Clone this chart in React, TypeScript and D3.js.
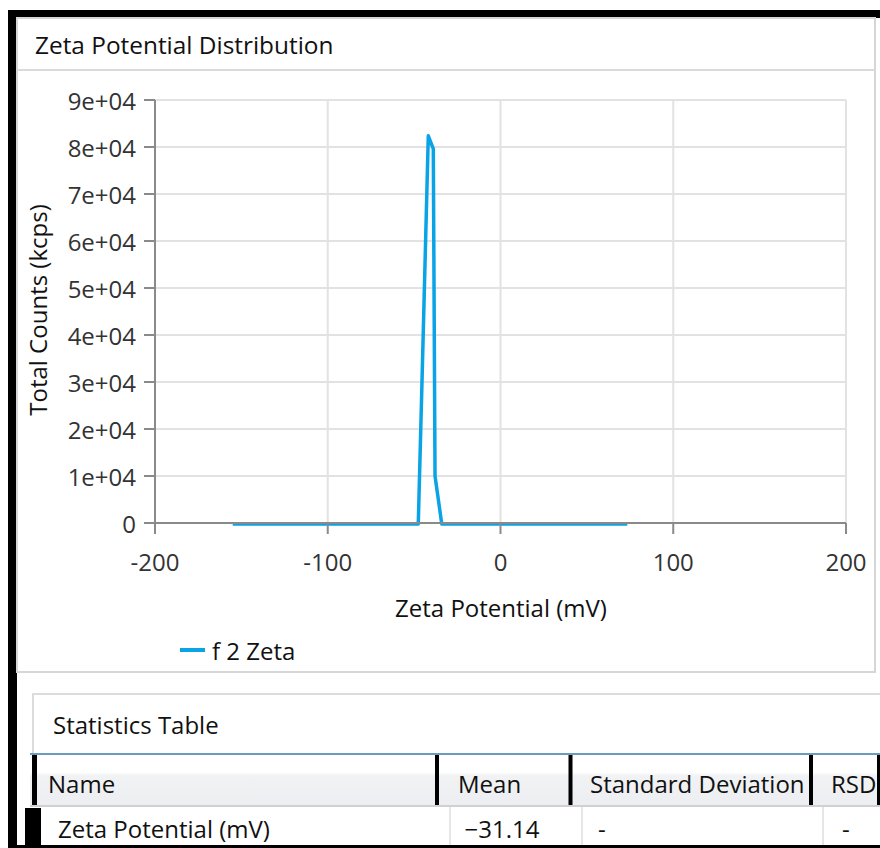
import React from "react";
import * as d3 from "d3";

// Zeta potential distribution (x in mV, y in kcps)
const zetaMv = [-155, -47.6, -45.6, -41.8, -38.9, -37.9, -34.0, 73.4];
const totalCounts = [0, 0, 28000, 82600, 79800, 10200, 0, 0];

const xTicks = [-200, -100, 0, 100, 200];
const xTickLabels = ["-200", "-100", "0", "100", "200"];
const yTicks = [0, 10000, 20000, 30000, 40000, 50000, 60000, 70000, 80000, 90000];
const yTickLabels = ["0", "1e+04", "2e+04", "3e+04", "4e+04", "5e+04", "6e+04", "7e+04", "8e+04", "9e+04"];

const seriesName = "f 2 Zeta";

// Statistics table
const statColumns = ["Name", "Mean", "Standard Deviation", "RSD"];
const statRow = ["Zeta Potential (mV)", "\u221231.14", "-", "-"];

const FONT = "'Open Sans', sans-serif";
const BLUE = "#0aa3e6";

export default function App() {
  const W = 880;
  const H = 848;
  const x = d3.scaleLinear().domain([-200, 200]).range([155, 846]);
  const y = d3.scaleLinear().domain([0, 90000]).range([523, 100]);

  const pts: [number, number][] = zetaMv.map((v, i) => [v, totalCounts[i]]);
  const line = d3
    .line<[number, number]>()
    .x((d) => x(d[0]))
    .y((d) => y(d[1]));

  const headerSepX = [34, 437, 570.5, 811, 879];
  const cellSepX = [450, 582, 823];

  return (
    <svg
      width={W}
      height={H}
      style={{ position: "absolute", left: 0, top: 0, background: "#fff" }}
      fontFamily={FONT}
    >
      <defs>
        <linearGradient id="hdrGrad" x1="0" y1="0" x2="0" y2="1">
          <stop offset="0" stopColor="#ffffff" />
          <stop offset="0.35" stopColor="#ffffff" />
          <stop offset="0.42" stopColor="#f1f2f4" />
          <stop offset="1" stopColor="#eceef1" />
        </linearGradient>
      </defs>

      {/* outer window frame */}
      <rect x={8} y={10} width={872} height={8} fill="#000" />
      <rect x={8} y={10} width={9} height={838} fill="#000" />
      <rect x={8} y={845} width={872} height={3} fill="#000" />

      {/* chart panel */}
      <rect x={17} y={18} width={858} height={654} fill="#fff" stroke="#d6d6d6" strokeWidth={2} />
      <line x1={17} x2={875} y1={70} y2={70} stroke="#dadada" strokeWidth={2} />
      <text x={35} y={44} dominantBaseline="central" fontSize={24.4} fill="#111">
        Zeta Potential Distribution
      </text>

      {/* grid */}
      {yTicks.map((t) => (
        <line key={"gy" + t} x1={x(-200)} x2={x(200)} y1={y(t)} y2={y(t)} stroke="#e2e2e2" strokeWidth={2} />
      ))}
      {xTicks.map((t) => (
        <line key={"gx" + t} x1={x(t)} x2={x(t)} y1={y(0)} y2={y(90000)} stroke="#e2e2e2" strokeWidth={2} />
      ))}

      {/* data */}
      <path d={line(pts) || ""} fill="none" stroke={BLUE} strokeWidth={3.5} strokeLinejoin="round" transform="translate(0,1)" />

      {/* axes */}
      <line x1={x(-200) - 11} x2={x(200)} y1={y(0)} y2={y(0)} stroke="#8a8a8a" strokeWidth={2} />
      <line x1={x(-200)} x2={x(-200)} y1={y(90000)} y2={y(0) + 11} stroke="#8a8a8a" strokeWidth={2} />
      {yTicks.map((t, i) => (
        <g key={"ty" + t}>
          <line x1={x(-200) - 11} x2={x(-200)} y1={y(t)} y2={y(t)} stroke="#8a8a8a" strokeWidth={2} />
          <text x={136} y={y(t)} textAnchor="end" dominantBaseline="central" fontSize={24} fill="#333">
            {yTickLabels[i]}
          </text>
        </g>
      ))}
      {xTicks.map((t, i) => (
        <g key={"tx" + t}>
          <line x1={x(t)} x2={x(t)} y1={y(0)} y2={y(0) + 11} stroke="#8a8a8a" strokeWidth={2} />
          <text x={x(t)} y={561} textAnchor="middle" dominantBaseline="central" fontSize={24} fill="#333">
            {xTickLabels[i]}
          </text>
        </g>
      ))}
      <text x={501} y={607} textAnchor="middle" dominantBaseline="central" fontSize={24} fill="#111">
        Zeta Potential (mV)
      </text>
      <text
        transform="translate(37,310) rotate(-90)"
        textAnchor="middle"
        dominantBaseline="central"
        fontSize={24}
        fill="#111"
      >
        Total Counts (kcps)
      </text>

      {/* legend */}
      <line x1={180} x2={205} y1={650} y2={650} stroke={BLUE} strokeWidth={4} />
      <text x={212} y={650} dominantBaseline="central" fontSize={24} fill="#111">
        {seriesName}
      </text>

      {/* statistics table */}
      <rect x={33} y={694} width={860} height={60} fill="#fff" stroke="#dcdcdc" strokeWidth={2} />
      <text x={53} y={724} dominantBaseline="central" fontSize={24} fill="#111">
        Statistics Table
      </text>
      <rect x={30} y={754} width={850} height={52} fill="url(#hdrGrad)" />
      <line x1={30} x2={880} y1={754} y2={754} stroke="#6b9cbd" strokeWidth={2} />
      <line x1={30} x2={880} y1={806} y2={806} stroke="#d0d0d0" strokeWidth={2} />
      {headerSepX.map((sx, i) => (
        <rect key={"hs" + i} x={sx - 2} y={755} width={i === 0 ? 5 : 4} height={50} fill="#000" />
      ))}
      {[48, 458, 590, 831].map((tx, i) => (
        <text key={"hc" + i} x={tx} y={783} dominantBaseline="central" fontSize={24} fill="#111">
          {statColumns[i]}
        </text>
      ))}
      <rect x={41} y={807} width={839} height={38} fill="#fff" />
      {cellSepX.map((cx, i) => (
        <line key={"cs" + i} x1={cx} x2={cx} y1={807} y2={845} stroke="#e6e6e6" strokeWidth={2} />
      ))}
      <rect x={25} y={808} width={16} height={40} fill="#000" />
      <text x={58} y={828} dominantBaseline="central" fontSize={24} fill="#111">
        {statRow[0]}
      </text>
      <text x={502} y={828} textAnchor="middle" dominantBaseline="central" fontSize={24} fill="#111">
        {statRow[1]}
      </text>
      <text x={598} y={828} dominantBaseline="central" fontSize={24} fill="#111">
        {statRow[2]}
      </text>
      <text x={842} y={828} dominantBaseline="central" fontSize={24} fill="#111">
        {statRow[3]}
      </text>
    </svg>
  );
}
